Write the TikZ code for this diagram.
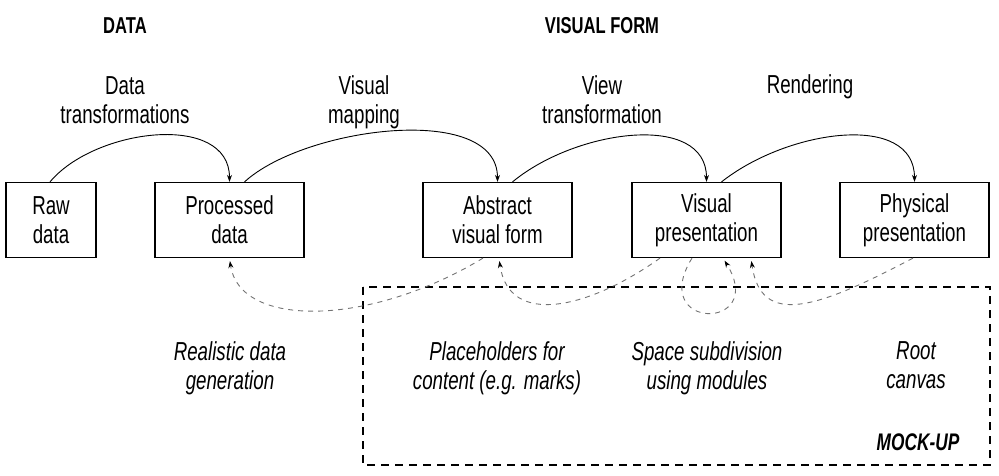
\documentclass[tikz,border=0pt]{standalone}
\usepackage{fontspec}
\setmainfont{Liberation Sans}[FakeStretch=0.72]
\usetikzlibrary{arrows.meta}
\begin{document}
\begin{tikzpicture}[x=1pt,y=-1pt,
  box/.style={draw, line width=1.2pt, minimum width=149pt, minimum height=75pt, align=center, inner sep=0pt, font=\fontsize{26}{29}\selectfont},
  lab/.style={align=center, inner sep=0pt, font=\fontsize{26}{29}\selectfont},
  ilab/.style={align=center, inner sep=0pt, font=\fontsize{26}{29}\selectfont\itshape},
  hdr/.style={inner sep=0pt, font=\fontsize{23}{26}\selectfont\bfseries},
  flow/.style={line width=0.9pt, -{Stealth[length=7pt,width=5pt]}},
  back/.style={line width=0.9pt, draw=black!55, dash pattern=on 5pt off 5pt, -{Stealth[length=7pt,width=5pt,color=black]}, shorten >=3pt},
]
\useasboundingbox (0,0) rectangle (999,475);

% headers
\node[hdr] (hdata) at (125,26) {DATA};
\node[hdr] (hvis) at (602,26) {VISUAL FORM};

% step labels
\node[lab] (l1) at (125,100) {Data\\transformations};
\node[lab] (l2) at (364,102.5) {Visual\\mapping};
\node[lab] (l3) at (602,100) {View\\transformation};
\node[lab] (l4) at (810,87) {Rendering};

% boxes
\node[box, minimum width=90pt] (raw) at (51,220) {Raw\\data};
\node[box] (proc) at (229.5,220) {Processed\\data};
\node[box] (abs) at (497.5,220) {Abstract\\visual form};
\node[box] (vis) at (706.5,220) {Visual\\presentation};
\node[box] (phys) at (914.5,220) {Physical\\presentation};

% mock-up region
\draw[line width=1.2pt, dash pattern=on 8pt off 6pt] (363,287) rectangle (990,465);

% forward pipeline
\draw[flow] ([xshift=-1pt]raw.north) .. controls +(45,-54) and +(0,-70) .. (proc.north);
\draw[flow] ([xshift=15pt]proc.north) .. controls +(60,-55) and +(0,-80) .. (abs.north);
\draw[flow] ([xshift=15pt]abs.north) .. controls +(64,-53) and +(0,-70) .. (vis.north);
\draw[flow] ([xshift=15pt]vis.north) .. controls +(67,-53) and +(0,-70) .. (phys.north);

% backward dashed
\draw[back] ([xshift=-14.5pt]abs.south) .. controls +(-114,69) and +(10,70) .. (proc.south);
\draw[back] ([xshift=-46.5pt]vis.south) .. controls +(-70,50) and +(10,70) .. ([xshift=1.5pt]abs.south);
\draw[back] ([xshift=-14.5pt]vis.south) .. controls +(-45,73) and +(45,73) .. ([xshift=16.5pt]vis.south);
\draw[back] ([xshift=-1.5pt]phys.south) .. controls +(-95,50) and +(10,70) .. ([xshift=44.5pt]vis.south);

% italic labels
\node[ilab] (g1) at (230,368) {Realistic data\\generation};
\node[ilab] (g2) at (497,368) {Placeholders for\\content (e.g. marks)};
\node[ilab] (g3) at (707,368) {Space subdivision\\using modules};
\node[ilab] (g4) at (916,365) {Root\\canvas};
\node[inner sep=0pt, font=\fontsize{24}{26}\selectfont\bfseries\itshape] (mock) at (918,442) {MOCK-UP};
\end{tikzpicture}
\end{document}
